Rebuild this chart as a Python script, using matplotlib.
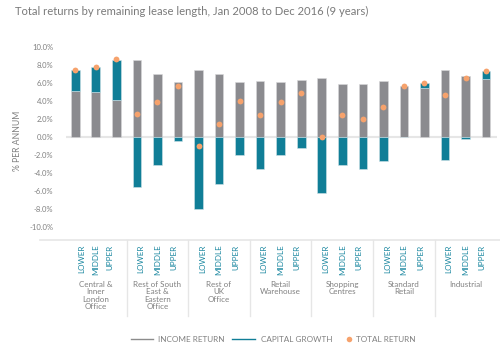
import matplotlib
matplotlib.use("Agg")
from matplotlib import pyplot as plt
from matplotlib import transforms
from matplotlib.lines import Line2D
import numpy as np

groups = ["Central &\nInner\nLondon\nOffice", "Rest of South\nEast &\nEastern\nOffice",
          "Rest of\nUK\nOffice", "Retail\nWarehouse", "Shopping\nCentres",
          "Standard\nRetail", "Industrial"]
subs = ["LOWER", "MIDDLE", "UPPER"]
legend_labels = ["INCOME RETURN", "CAPITAL GROWTH", "TOTAL RETURN"]

income = [5.1, 5.0, 4.1, 8.6, 7.0, 6.1, 7.5, 7.0, 6.1, 6.2, 6.1, 6.3,
          6.6, 5.9, 5.9, 6.2, 5.7, 5.4, 7.4, 6.8, 6.5]
capital = [2.3, 2.8, 4.5, -5.5, -3.1, -0.4, -8.0, -5.2, -2.0, -3.5, -2.0, -1.2,
           -6.2, -3.1, -3.5, -2.7, 0.0, 0.6, -2.5, -0.2, 0.8]
total = [7.4, 7.8, 8.7, 2.6, 3.9, 5.7, -1.0, 1.4, 4.0, 2.5, 3.9, 4.9,
         0.0, 2.5, 2.0, 3.3, 5.7, 6.0, 4.7, 6.6, 7.3]

GREY = "#8b8b8f"
TEAL = "#107e97"
ORANGE = "#f6a26c"
TXT = "#808080"

plt.rcParams['font.family'] = ['Lato', 'DejaVu Sans']

fig = plt.figure(figsize=(5, 3.48), dpi=100)
ax = fig.add_axes([0.132, 0.3218, 0.862, 0.569])

x = np.arange(len(income))
inc = np.array(income)
cap = np.array(capital)
cap_bottom = np.where(cap > 0, inc, 0)

ax.axhline(0, color="#e6e6e6", lw=1.5, zorder=1)
ax.bar(x, inc, width=0.42, color=GREY, edgecolor="#d8d8da", linewidth=0.4, zorder=2)
ax.bar(x, cap, bottom=cap_bottom, width=0.42, color=TEAL, edgecolor="#cfe3e8", linewidth=0.4, zorder=2)
ax.plot(x, total, "o", color=ORANGE, ms=4.2, mec="none", zorder=3)

ax.set_xlim(-0.45, 20.53)
ax.set_ylim(-11, 11)
ax.set_yticks(np.arange(-10, 11, 2))
ax.set_yticklabels(["%.1f%%" % v for v in np.arange(-10, 11, 2)], fontsize=5.5, color=TXT)
ax.tick_params(axis="y", length=0, pad=9)
ax.set_xticks([])
for s in ax.spines.values():
    s.set_visible(False)
fig.text(0.036, 0.595, "% PER ANNUM", rotation=90, fontsize=6.2, color=TXT,
         ha="center", va="center")

fig.text(0.03, 0.982, "Total returns by remaining lease length, Jan 2008 to Dec 2016 (9 years)",
         fontsize=8.1, color="#7a7a7a", ha="left", va="top")

# category table below the axis
tr = transforms.blended_transform_factory(ax.transData, fig.transFigure)
fig.add_artist(Line2D([0.08, 1.0], [0.3103, 0.3103], transform=fig.transFigure,
                      color="#e6e6e6", lw=1.2))
for b in np.arange(2.5, 20, 3):
    fig.add_artist(Line2D([b, b], [0.3103, 0.092], transform=tr, color="#e6e6e6", lw=1.0))
# the sub labels sit a bit tighter than the bars (first group tighter still)
spread = [0.69, 0.81, 0.81, 0.81, 0.81, 0.81, 0.81]
for g, name in enumerate(groups):
    c = g * 3 + 1
    for k in range(3):
        fig.text(c + (k - 1) * spread[g], 0.297, subs[k], transform=tr, rotation=90,
                 fontsize=5.8, color="#1a87a0", ha="center", va="top")
    fig.text(c, 0.192, name, transform=tr, fontsize=5.8, color=TXT,
             ha="center", va="top", linespacing=1.05)

# legend, placed by hand
ly = 1 - 339 / 348
fig.add_artist(Line2D([131 / 500, 153 / 500], [ly, ly], transform=fig.transFigure,
                      color="#8c8c8c", lw=1))
fig.add_artist(Line2D([232 / 500, 255 / 500], [ly, ly], transform=fig.transFigure,
                      color=TEAL, lw=1))
fig.add_artist(Line2D([349 / 500], [ly], transform=fig.transFigure, marker="o",
                      ls="none", color=ORANGE, ms=4, mec="none"))
for tx, lab in zip([158, 261, 356], legend_labels):
    fig.text(tx / 500, ly, lab, fontsize=5.9, color=TXT, ha="left", va="center")

fig.savefig("out.png", dpi=100)
